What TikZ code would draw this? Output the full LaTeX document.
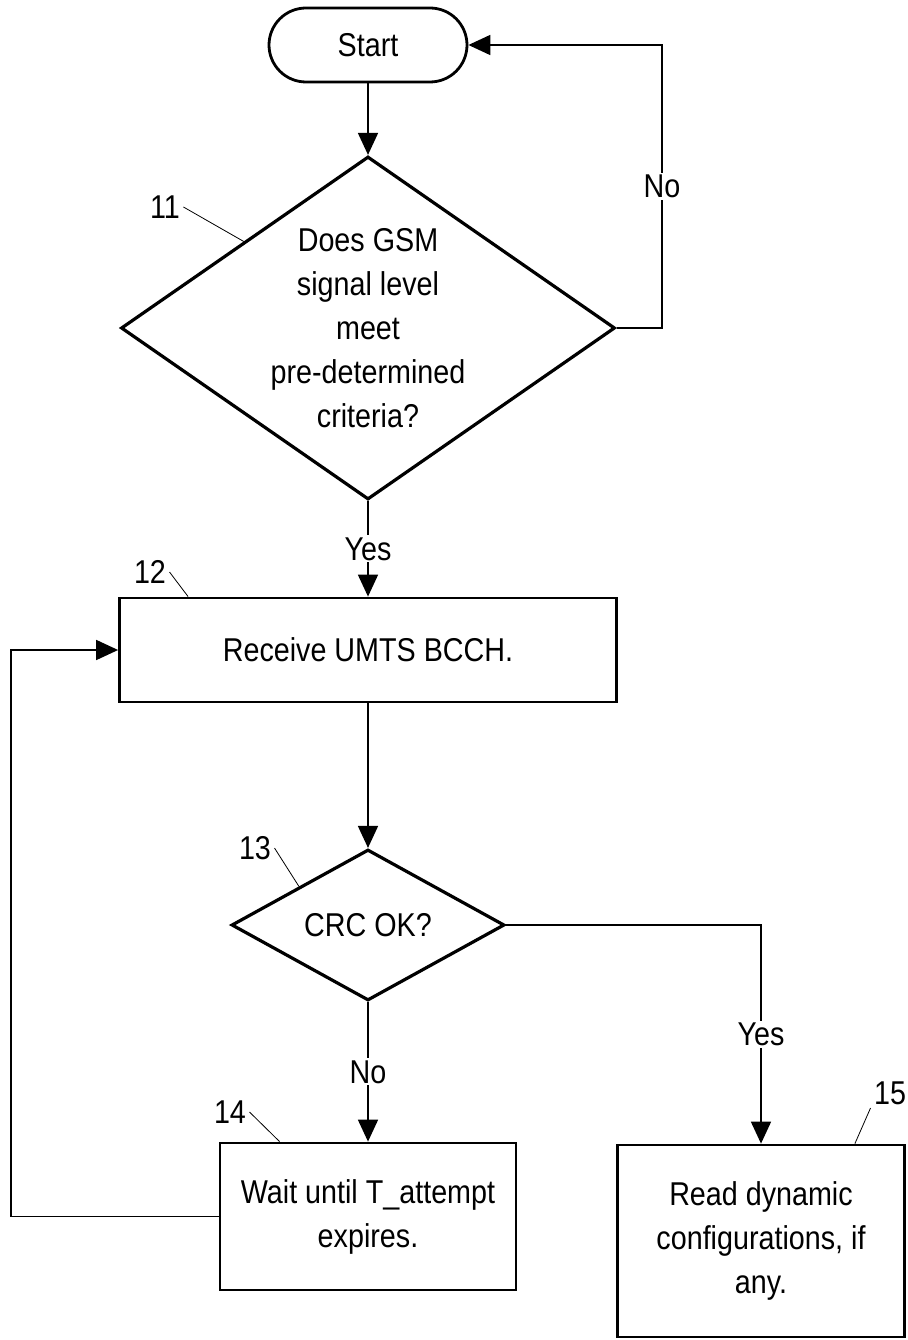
\documentclass[tikz,border=0pt]{standalone}
\usepackage{fontspec}
\setmainfont{Liberation Sans}[FakeStretch=0.87]
\usetikzlibrary{shapes.geometric,arrows.meta,calc,positioning}

\begin{document}
\begin{tikzpicture}[x=1pt,y=-1pt,
    every node/.style={font=\fontsize{33pt}{44pt}\selectfont},
    terminal/.style={draw,line width=2.8pt,rounded corners=37pt,minimum width=198pt,minimum height=74pt},
    decision/.style={draw,diamond,line width=3.2pt,inner sep=0pt},
    process/.style={draw,rectangle,line width=2.8pt},
    flow/.style={line width=1.7pt,-{Triangle[length=22pt,width=20pt]}},
    tag/.style={line width=0.8pt},
    lbl/.style={fill=white,inner sep=2pt}]
            \useasboundingbox (0,0) rectangle (907,1340);
            % Start and the first test
            \node[terminal] (start) at (368,45) {Start};
            \node[decision,minimum width=494pt,minimum height=343pt] (q1) at (368,328) {};
            \node[align=center] (q1txt) at (q1.center) {Does GSM\\signal level\\meet\\pre-determined\\criteria?};
            % Boxes and the CRC test
            \node[process,minimum width=497pt,minimum height=104pt] (recv) at (368,650) {Receive UMTS BCCH.};
            \node[decision,minimum width=273pt,minimum height=150pt] (crc) at (368,925) {CRC OK?};
            \node[process,minimum width=296pt,minimum height=147pt,align=center] (wait) at (368,1216.5) {Wait until T\_attempt\\expires.};
            \node[process,minimum width=287pt,minimum height=192pt,align=center] (read) at (761,1241) {Read dynamic\\configurations, if\\any.};
            % Reference numerals
            \node (n11) at (165,207) {11};
            \node (n12) at (150,572) {12};
            \node (n13) at (255,848) {13};
            \node (n14) at (230,1112) {14};
            \node (n15) at (890,1093) {15};
            \draw[tag] (n11.east) -- (q1.north west);
            \draw[tag] (n12.east) -- ($(recv.north west)+(70,0)$);
            \draw[tag] (n13.east) -- (crc.north west);
            \draw[tag] (n14.east) -- ($(wait.north west)+(61,0)$);
            \draw[tag] (n15.south west) -- ($(read.north east)+(-51,0)$);
            % Flow lines
            \coordinate (noturn) at (662,45);
            \coordinate (loopbl) at (11,1216.5);
            \draw[flow] (start.south) -- (q1.north);
            \draw[flow] (q1.east) -| node[lbl,pos=0.75] {No} (noturn) -- (start.east);
            \draw[flow] (q1.south) -- node[lbl] {Yes} (recv.north);
            \draw[flow] (recv.south) -- (crc.north);
            \draw[flow] (crc.south) -- node[lbl] {No} (wait.north);
            \draw[flow] (crc.east) -| node[lbl,pos=0.75] {Yes} (read.north);
            \draw[flow] (wait.west) -- (loopbl) |- (recv.west);
\end{tikzpicture}
\end{document}
